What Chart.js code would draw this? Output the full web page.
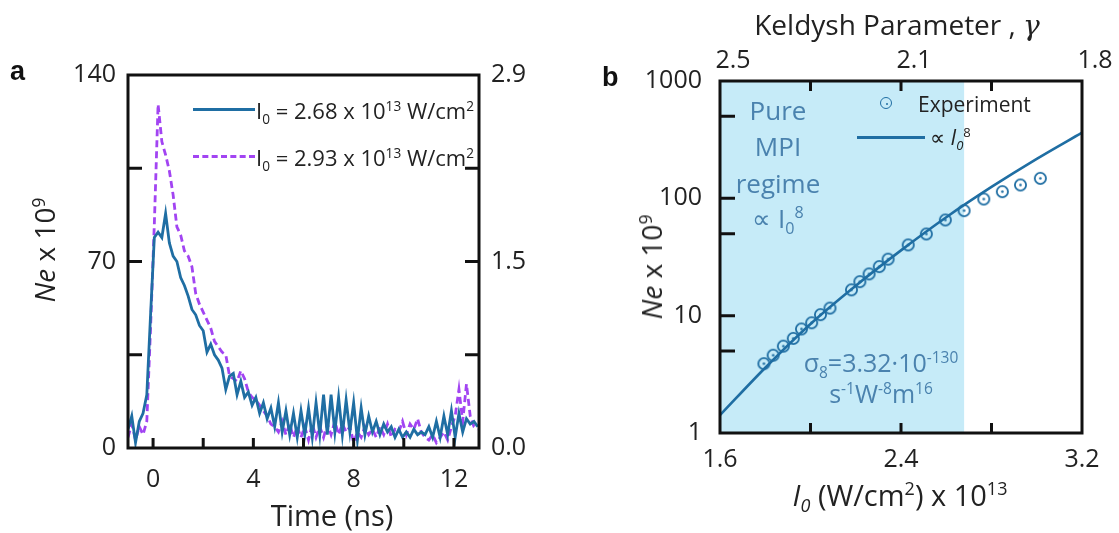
<!DOCTYPE html>
<html>
<head>
<meta charset="utf-8">
<script src="https://cdn.jsdelivr.net/npm/chart.js@4.4.0/dist/chart.umd.min.js"></script>
<style>
body{margin:0;background:#fff;width:1119px;height:533px;position:relative;overflow:hidden;font-family:"Open Sans",sans-serif;color:#222}
canvas{position:absolute;top:0}
#ca{left:0}
#cb{left:560px}
.t{position:absolute;white-space:nowrap;transform:translate(-50%,-50%)}
.l{position:absolute;white-space:nowrap;transform:translateY(-50%)}
sup,sub{font-size:62%;line-height:0}
.pl{position:absolute;font:bold 27px "Liberation Sans",sans-serif;color:#111}
.in{color:#4a82ae}
</style>
</head>
<body>
<canvas id="ca" width="560" height="533"></canvas>
<canvas id="cb" width="559" height="533"></canvas>

<div class="pl" style="left:10px;top:56px">a</div>
<div class="t" style="left:44px;top:250px;font-size:28px;transform:translate(-50%,-50%) rotate(-90deg)"><i>Ne</i> x 10<sup>9</sup></div>
<div class="t" style="left:332px;top:514px;font-size:29px">Time (ns)</div>
<div style="position:absolute;left:193px;top:108px;width:62px;border-top:3px solid #1f6ea3"></div>
<div class="l" style="left:256px;top:110px;font-size:22px">I<sub>0</sub> = 2.68 x 10<sup>13</sup> W/cm<sup>2</sup></div>
<div style="position:absolute;left:193px;top:155px;width:62px;border-top:3px dashed #a244f2"></div>
<div class="l" style="left:256px;top:157px;font-size:22px">I<sub>0</sub> = 2.93 x 10<sup>13</sup> W/cm<sup>2</sup></div>

<div class="pl" style="left:602px;top:62px">b</div>
<div class="t" style="left:897px;top:24px;font-size:28px">Keldysh Parameter , <i style="font-family:'DejaVu Serif',serif">γ</i></div>
<div class="t" style="left:651px;top:267px;font-size:28px;transform:translate(-50%,-50%) rotate(-90deg)"><i>Ne</i> x 10<sup>9</sup></div>
<div class="t" style="left:900px;top:494px;font-size:29px"><i>I<sub>0</sub></i> (W/cm<sup>2</sup>) x 10<sup>13</sup></div>
<div class="t in" style="left:778px;top:110px;font-size:26px">Pure</div>
<div class="t in" style="left:778px;top:146px;font-size:26px">MPI</div>
<div class="t in" style="left:778px;top:183px;font-size:26px">regime</div>
<div class="t in" style="left:778px;top:218px;font-size:26px">∝ I<sub>0</sub><sup>8</sup></div>
<div class="t in" style="left:881px;top:362px;font-size:25px">σ<sub>8</sub>=3.32·10<sup>-130</sup></div>
<div class="t in" style="left:881px;top:393px;font-size:25px">s<sup>-1</sup>W<sup>-8</sup>m<sup>16</sup></div>
<div style="position:absolute;left:880px;top:97px;width:10px;height:10px;border:1.8px solid #1f6ea3;border-radius:50%"></div>
<div style="position:absolute;left:885.5px;top:102.5px;width:2.6px;height:2.6px;background:#1f6ea3;border-radius:50%"></div>
<div class="l" style="left:918px;top:104px;font-size:21px">Experiment</div>
<div style="position:absolute;left:857px;top:136px;width:68px;border-top:3px solid #1f6ea3"></div>
<div class="l" style="left:930px;top:137px;font-size:21px">∝ <i>I<sub>0</sub></i><sup>8</sup></div>

<script>
// panel a: time traces, sampled every 0.15 ns starting at -1 ns
const tStart = -1.0;
const tStep = 0.15;
const blueNe = [7,12,2,10,13,20,50,79,81,79,88,77,72,70,64,61,57,52,50,46,44,36,39,35,33,30,22,27,28,20,
  25,19,21,16,19,13,17,11,15,8,17,6,14,5,13,4,14,5,15,4,17,5,20,5,20,6,19,5,18,6,
  17,3,15,5,12,6,10,5,9,6,8,4,7,4,6,4,7,5,6,5,8,4,10,4,12,5,14,4,13,6,11,9,10,8];
const purpleNe = [4,9,3,8,5,10,45,84,129,115,110,104,95,83,80,74,72,68,58,54,51,48,45,40,38,36,35,27,26,25,
  29,26,21,19,18,16,14,12,9,8,6,10,5,9,4,8,4,8,3,9,4,8,4,9,5,10,5,9,6,8,
  2,6,4,8,5,7,4,8,5,9,4,7,6,10,5,9,7,11,6,4,3,5,2,4,6,3,8,12,22,10,24,12,8,7];
const timeTicks = [0, 4, 8, 12];
const timeMinor = [0, 2, 4, 6, 8, 10, 12];
const neTicks = [0, 70, 140];
const neMinor = [35, 70, 105];
const rightLabels = ['0.0', '1.5', '2.9'];

// panel b: intensity scan
const expI = [1.794,1.835,1.88,1.924,1.96,2.005,2.044,2.086,2.181,2.218,2.259,2.304,2.343,2.432,2.512,2.596,2.679,2.766,2.848,2.928,3.016];
const expNe = [3.9,4.6,5.5,6.4,7.7,8.7,10.2,11.6,16.6,19.5,22.7,26.2,30.3,40.1,49.7,65.4,78.5,98.7,114,130,148];
const fitI = [1.6,1.8,2.0,2.2,2.4,2.6,2.8,3.0,3.2];
const fitNe = [1.42,3.6,8.5,18,36,69,125,217,363];
const shadeI = [1.6, 2.68];
const shadeNe = [1000, 1000];
const iTicks = [1.6, 2.4, 3.2];
const iMinor = [2.0, 2.4, 2.8];
const logTicks = [1, 10, 100, 1000];
const logMinor = [5, 10, 50, 100, 500];
const keldyshLabels = ['2.5', '2.1', '1.8'];

const BLUE = '#1f6ea3';
const PURPLE = '#a244f2';
const tickFont = {family: 'Open Sans', size: 25};

const frameTicks = {
  id: 'frameTicks',
  afterDraw(chart, args, o) {
    const {ctx, chartArea: a} = chart;
    ctx.save();
    ctx.strokeStyle = '#111';
    ctx.lineWidth = 3;
    ctx.strokeRect(a.left, a.top, a.right - a.left, a.bottom - a.top);
    ctx.beginPath();
    o.xTicks.forEach(v => {
      const px = chart.scales.x.getPixelForValue(v);
      ctx.moveTo(px, a.bottom); ctx.lineTo(px, a.bottom - o.xLen);
      if (o.top) { ctx.moveTo(px, a.top); ctx.lineTo(px, a.top + o.xLen); }
    });
    o.yTicks.forEach(v => {
      const py = chart.scales.y.getPixelForValue(v);
      ctx.moveTo(a.left, py); ctx.lineTo(a.left + o.yLen, py);
      if (o.right) { ctx.moveTo(a.right, py); ctx.lineTo(a.right - o.yLen, py); }
    });
    ctx.stroke();
    ctx.restore();
  }
};

function setTicks(list) {
  return scale => { scale.ticks = list.map(v => ({value: v})); };
}

new Chart(document.getElementById('ca'), {
  type: 'line',
  data: {
    datasets: [
      {data: blueNe.map((v, i) => ({x: tStart + i * tStep, y: v})), borderColor: BLUE, borderWidth: 2.8, pointRadius: 0},
      {data: purpleNe.map((v, i) => ({x: tStart + i * tStep, y: v})), borderColor: PURPLE, borderWidth: 2.8, borderDash: [7, 4], pointRadius: 0}
    ]
  },
  options: {
    responsive: false,
    animation: false,
    layout: {padding: {top: 75}},
    plugins: {
      legend: {display: false},
      tooltip: {enabled: false},
      frameTicks: {xTicks: timeMinor, yTicks: neMinor, xLen: 10, yLen: 14, right: true}
    },
    scales: {
      x: {
        type: 'linear', min: -1, max: 13,
        grid: {display: false}, border: {display: false},
        afterBuildTicks: setTicks(timeTicks),
        afterFit: s => { s.height = 85; },
        ticks: {font: tickFont, color: '#222', padding: 9, autoSkip: false, maxRotation: 0}
      },
      y: {
        min: 0, max: 140,
        grid: {display: false}, border: {display: false},
        afterBuildTicks: setTicks(neTicks),
        afterFit: s => { s.width = 128; },
        ticks: {font: tickFont, color: '#222', padding: 4}
      },
      y2: {
        position: 'right', min: 0, max: 140,
        grid: {display: false}, border: {display: false},
        afterBuildTicks: setTicks(neTicks),
        afterFit: s => { s.width = 81; },
        ticks: {font: tickFont, color: '#222', padding: 4, callback: (v, i) => rightLabels[i]}
      }
    }
  },
  plugins: [frameTicks]
});

// open circle with a dot in the middle
const marker = document.createElement('canvas');
marker.width = 15; marker.height = 15;
const mctx = marker.getContext('2d');
mctx.strokeStyle = BLUE; mctx.fillStyle = BLUE; mctx.lineWidth = 1.8;
mctx.beginPath(); mctx.arc(7.5, 7.5, 5.6, 0, Math.PI * 2); mctx.stroke();
mctx.beginPath(); mctx.arc(7.5, 7.5, 1.3, 0, Math.PI * 2); mctx.fill();

new Chart(document.getElementById('cb'), {
  type: 'line',
  data: {
    datasets: [
      {data: expI.map((x, i) => ({x, y: expNe[i]})), showLine: false, pointStyle: marker, pointRadius: 7, order: 0},
      {data: fitI.map((x, i) => ({x, y: fitNe[i]})), borderColor: BLUE, borderWidth: 2.6, pointRadius: 0, cubicInterpolationMode: 'monotone', order: 1},
      {data: shadeI.map((x, i) => ({x, y: shadeNe[i]})), borderWidth: 0, pointRadius: 0, fill: 'start', backgroundColor: '#c6ebf8', order: 2}
    ]
  },
  options: {
    responsive: false,
    animation: false,
    layout: {padding: {right: 37}},
    plugins: {
      legend: {display: false},
      tooltip: {enabled: false},
      filler: {drawTime: 'beforeDatasetsDraw'},
      frameTicks: {xTicks: iMinor, yTicks: logMinor, xLen: 10, yLen: 15, top: true}
    },
    scales: {
      x: {
        type: 'linear', min: 1.6, max: 3.2,
        grid: {display: false}, border: {display: false},
        afterBuildTicks: setTicks(iTicks),
        afterFit: s => { s.height = 100; },
        ticks: {font: tickFont, color: '#222', padding: 4, autoSkip: false, maxRotation: 0, callback: v => v.toFixed(1)}
      },
      x2: {
        type: 'linear', position: 'top', min: 1.6, max: 3.2,
        grid: {display: false}, border: {display: false},
        afterBuildTicks: setTicks(iTicks),
        afterFit: s => { s.height = 81; },
        ticks: {font: tickFont, color: '#222', padding: -3, labelOffset: 13, autoSkip: false, maxRotation: 0, callback: (v, i) => keldyshLabels[i]}
      },
      y: {
        type: 'logarithmic', min: 1, max: 1000,
        grid: {display: false}, border: {display: false},
        afterBuildTicks: setTicks(logTicks),
        afterFit: s => { s.width = 160; },
        ticks: {font: tickFont, color: '#222', padding: 10, callback: v => String(v)}
      }
    }
  },
  plugins: [frameTicks]
});
</script>
</body>
</html>
